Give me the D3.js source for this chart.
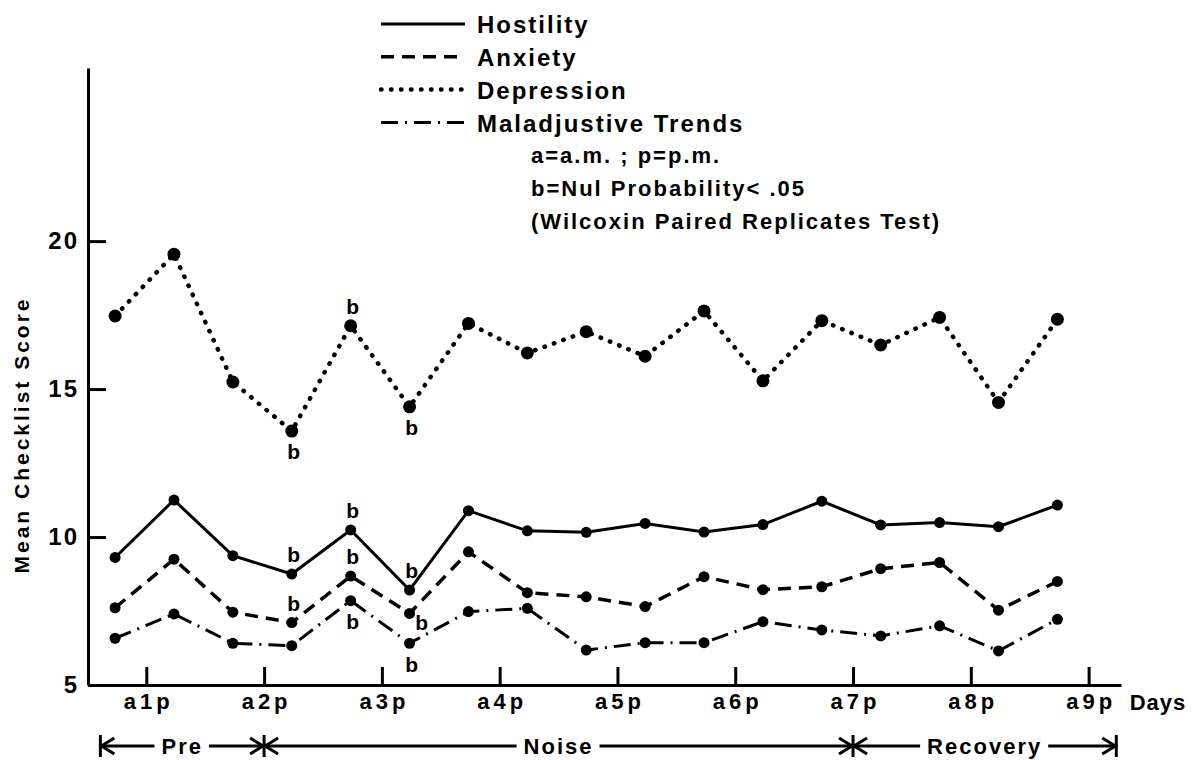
<!DOCTYPE html>
<html>
<head>
<meta charset="utf-8">
<script src="https://cdn.jsdelivr.net/npm/d3@7"></script>
<style>
  body { margin: 0; background: #fff; }
  svg text { font-family: "Liberation Sans", Arial, sans-serif; font-weight: bold; fill: #000; }
</style>
</head>
<body>
<svg width="1194" height="760"></svg>
<script>
var svg = d3.select("svg"),
  width = +svg.attr("width"),
  height = +svg.attr("height");

// sessions: 0 = a.m. day 1, 1 = p.m. day 1 ... 16 = a.m. day 9
var hostility = [9.31, 11.25, 9.37, 8.75, 10.24, 8.21, 10.89, 10.21, 10.16, 10.46, 10.17, 10.42, 11.21, 10.41, 10.49, 10.35, 11.08];
var anxiety = [7.61, 9.25, 7.46, 7.11, 8.68, 7.42, 9.5, 8.12, 7.98, 7.65, 8.66, 8.22, 8.32, 8.93, 9.14, 7.53, 8.5];
var depression = [17.47, 19.56, 15.24, 13.58, 17.14, 14.4, 17.22, 16.22, 16.94, 16.11, 17.64, 15.28, 17.31, 16.49, 17.42, 14.55, 17.36];
var maladjustive = [6.58, 7.4, 6.41, 6.33, 7.85, 6.41, 7.48, 7.59, 6.18, 6.43, 6.43, 7.14, 6.86, 6.66, 7.0, 6.15, 7.22];

var dayLabels = ["a1p", "a2p", "a3p", "a4p", "a5p", "a6p", "a7p", "a8p", "a9p"];
var yTicks = [5, 10, 15, 20];
var phases = ["Pre", "Noise", "Recovery"];
var phaseBounds = [-0.25, 2.53, 12.53, 17]; // in session units
var notes = ["a=a.m. ; p=p.m.", "b=Nul Probability< .05", "(Wilcoxin Paired Replicates Test)"];

// points marked "b"
var sigPoints = [
  { series: "Depression", i: 3, side: "below" },
  { series: "Depression", i: 4, side: "above" },
  { series: "Depression", i: 5, side: "below" },
  { series: "Hostility", i: 3, side: "above" },
  { series: "Hostility", i: 4, side: "above" },
  { series: "Hostility", i: 5, side: "above" },
  { series: "Anxiety", i: 3, side: "above" },
  { series: "Anxiety", i: 4, side: "above" },
  { series: "Anxiety", i: 5, side: "right" },
  { series: "Maladjustive Trends", i: 4, side: "below" },
  { series: "Maladjustive Trends", i: 5, side: "below" },
];

var series = [
  { name: "Hostility", values: hostility, dash: null, w: 3, r: 5.5 },
  { name: "Anxiety", values: anxiety, dash: "13 8", w: 3.5, r: 5.5 },
  { name: "Depression", values: depression, dash: "0.5 9.5", w: 4.5, r: 6.5 },
  { name: "Maladjustive Trends", values: maladjustive, dash: "17 7 2 7", w: 3, r: 5.5 },
];

var x = d3.scaleLinear().domain([-0.46, 17.08]).range([88, 1121]);
var y = d3.scaleLinear().domain([5, 25.85]).range([685, 68]);

// y axis
var yAxis = d3.axisLeft(y).tickValues(yTicks).tickSize(-18).tickPadding(9).tickSizeOuter(0);
var gy = svg.append("g").attr("transform", "translate(88,0)").call(yAxis);
gy.attr("font-size", 24);
gy.selectAll("path, line").attr("stroke", "#000").attr("stroke-width", 3);
gy.selectAll("text").style("letter-spacing", "2px");

// x axis
var xAxis = d3
  .axisBottom(x)
  .tickValues(
    dayLabels.map(function (d, i) {
      return i * 2 + 0.53;
    })
  )
  .tickFormat(function (d, i) {
    return dayLabels[i];
  })
  .tickSize(-18)
  .tickPadding(8)
  .tickSizeOuter(0);
var gx = svg.append("g").attr("transform", "translate(0,685)").call(xAxis);
gx.attr("font-size", 22);
gx.selectAll("path, line").attr("stroke", "#000").attr("stroke-width", 3);
gx.selectAll("text").style("letter-spacing", "4px").attr("dx", 2);

svg
  .append("text")
  .attr("x", 1158)
  .attr("y", 710)
  .attr("text-anchor", "middle")
  .attr("font-size", 22)
  .style("letter-spacing", "1px")
  .text("Days");

svg
  .append("text")
  .attr("transform", "translate(29,435) rotate(-90)")
  .attr("text-anchor", "middle")
  .attr("font-size", 21)
  .style("letter-spacing", "3px")
  .text("Mean Checklist Score");

// lines and dots
var line = d3
  .line()
  .x(function (d, i) {
    return x(i);
  })
  .y(function (d) {
    return y(d);
  });

series.forEach(function (s) {
  svg
    .append("path")
    .datum(s.values)
    .attr("d", line)
    .attr("fill", "none")
    .attr("stroke", "#000")
    .attr("stroke-width", s.w)
    .attr("stroke-dasharray", s.dash)
    .attr("stroke-linecap", s.name == "Depression" ? "round" : "butt");

  svg
    .append("g")
    .selectAll("circle")
    .data(s.values)
    .enter()
    .append("circle")
    .attr("cx", function (d, i) {
      return x(i);
    })
    .attr("cy", function (d) {
      return y(d);
    })
    .attr("r", s.r)
    .attr("fill", "#000");
});

// "b" labels
var byName = {};
series.forEach(function (s) {
  byName[s.name] = s.values;
});
svg
  .append("g")
  .selectAll("text")
  .data(sigPoints)
  .enter()
  .append("text")
  .attr("x", function (d) {
    return x(d.i) + (d.side == "right" ? 12 : 2);
  })
  .attr("y", function (d) {
    var v = y(byName[d.series][d.i]);
    if (d.side == "above") return v - 19;
    if (d.side == "below") return v + 21;
    return v + 9;
  })
  .attr("dy", "0.35em")
  .attr("text-anchor", "middle")
  .attr("font-size", 21)
  .text("b");

// legend
var legend = svg.append("g");
series.forEach(function (s, k) {
  var ly = 24 + k * 32.8;
  legend
    .append("line")
    .attr("x1", 381)
    .attr("x2", 465)
    .attr("y1", ly)
    .attr("y2", ly)
    .attr("stroke", "#000")
    .attr("stroke-width", s.w)
    .attr("stroke-dasharray", s.dash)
    .attr("stroke-linecap", s.name == "Depression" ? "round" : "butt");
  legend
    .append("text")
    .attr("x", 477)
    .attr("y", ly + 1)
    .attr("dy", "0.35em")
    .attr("font-size", 24)
    .style("letter-spacing", "2px")
    .text(s.name);
});
notes.forEach(function (t, k) {
  legend
    .append("text")
    .attr("x", 531)
    .attr("y", 155 + k * 33)
    .attr("dy", "0.35em")
    .attr("font-size", 22)
    .style("letter-spacing", "2px")
    .text(t);
});

// phase arrows under the axis
var ay = 746;
var arrows = svg.append("g").attr("stroke", "#000").attr("stroke-width", 3).attr("fill", "none");
phases.forEach(function (p, k) {
  var x0 = x(phaseBounds[k]),
    x1 = x(phaseBounds[k + 1]),
    mid = (x0 + x1) / 2;
  var t = svg
    .append("text")
    .attr("x", mid)
    .attr("y", ay)
    .attr("dy", "0.35em")
    .attr("text-anchor", "middle")
    .attr("font-size", 22)
    .style("letter-spacing", "2px")
    .text(p);
  var tw = t.node().getComputedTextLength();
  arrows.append("line").attr("x1", x0 + 1).attr("x2", mid - tw / 2 - 7).attr("y1", ay).attr("y2", ay);
  arrows.append("line").attr("x1", mid + tw / 2 + 6).attr("x2", x1 - 1).attr("y1", ay).attr("y2", ay);
  arrows.append("path").attr("d", "M" + (x0 + 14) + "," + (ay - 8) + "L" + (x0 + 1) + "," + ay + "L" + (x0 + 14) + "," + (ay + 8));
  arrows.append("path").attr("d", "M" + (x1 - 14) + "," + (ay - 8) + "L" + (x1 - 1) + "," + ay + "L" + (x1 - 14) + "," + (ay + 8));
});
phaseBounds.forEach(function (b) {
  arrows.append("line").attr("x1", x(b)).attr("x2", x(b)).attr("y1", ay - 11).attr("y2", ay + 11);
});
</script>
</body>
</html>
